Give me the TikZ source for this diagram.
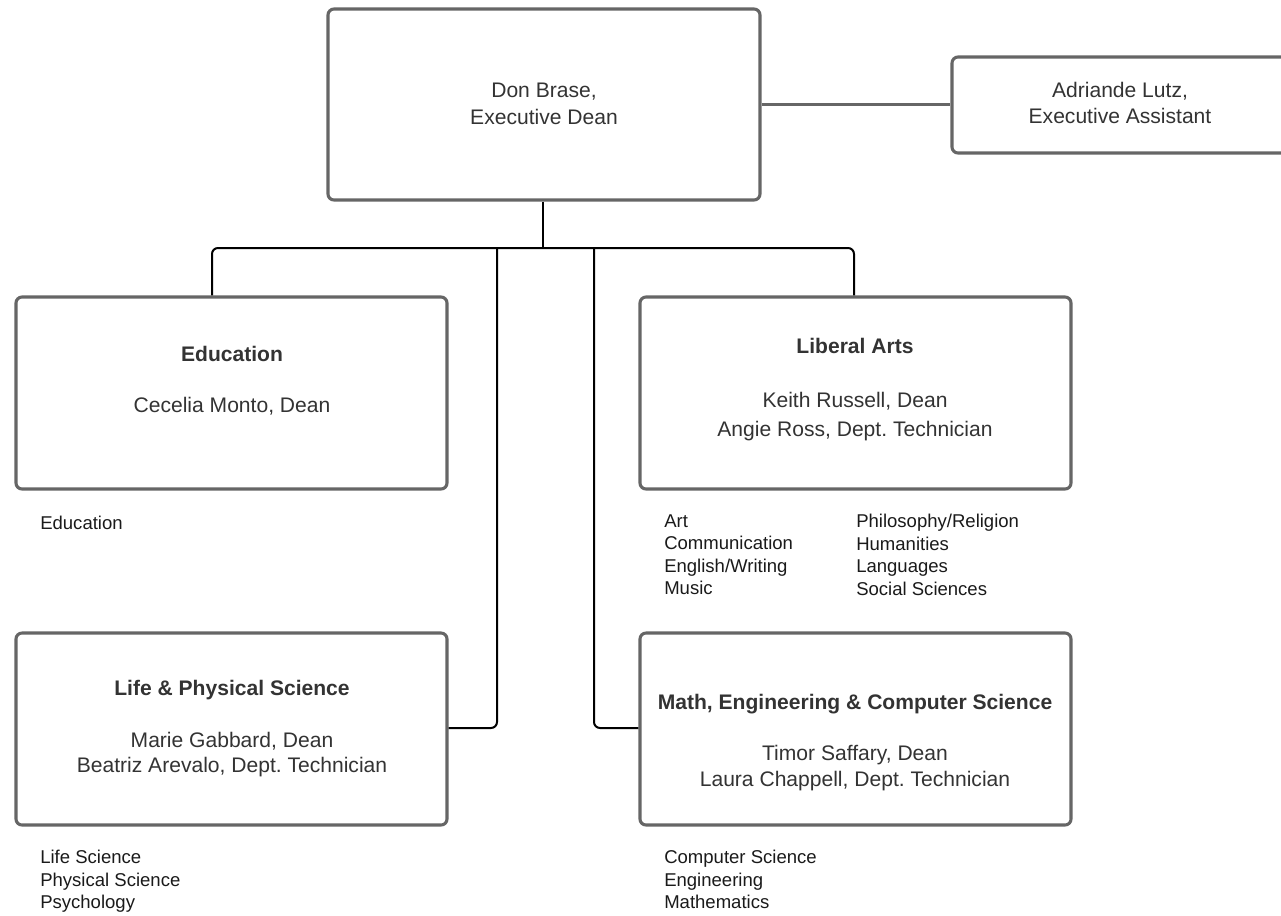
\documentclass[tikz,border=0pt]{standalone}
\usepackage{fontspec}
\setmainfont{Liberation Sans}
\usetikzlibrary{fit}
\frenchspacing
\definecolor{boxline}{HTML}{666666}
\definecolor{boxtext}{HTML}{333333}
\definecolor{listtext}{HTML}{1A1A1A}
\tikzset{
  x=0.75pt, y=-0.75pt,
  orgbox/.style={draw=boxline, line width=2.3pt, rounded corners=4.5pt, inner sep=0pt, fill=white},
  conn/.style={draw=black, line width=1.5pt},
  side/.style={draw=boxline, line width=1.6pt},
  btxt/.style={text=boxtext, font=\fontsize{15.8}{18.75}\selectfont, inner sep=0pt, anchor=center, yshift=-1.5pt},
  ttl/.style={btxt, font=\fontsize{15.8}{18.75}\selectfont\bfseries},
  ltxt/.style={text=listtext, font=\fontsize{13.9}{16.9}\selectfont, inner sep=0pt, anchor=west, align=left, yshift=-1.5pt},
}
\begin{document}
\begin{tikzpicture}
\useasboundingbox (0,0) rectangle (1281,915);
\clip (0,0) rectangle (1281,915);
\fill[white] (0,0) rectangle (1281,915);

% boxes
\node[orgbox, fit={(328,9) (760,200)}] (don) {};
\node[orgbox, fit={(952,57) (1300,153)}] (asst) {};
\node[orgbox, fit={(16,297) (447,489)}] (edu) {};
\node[orgbox, fit={(640,297) (1071,489)}] (la) {};
\node[orgbox, fit={(16,633) (447,825)}] (lps) {};
\node[orgbox, fit={(640,633) (1071,825)}] (mec) {};

% connector coordinates
\coordinate (j) at (543,248);
\coordinate (jl) at (212,248);
\coordinate (jr) at (854,248);
\coordinate (vl) at (497,248);
\coordinate (vr) at (594,248);
\coordinate (cl) at (497,728);
\coordinate (cr) at (594,728);

\draw[conn] (don.south -| j) -- (j);
\draw[conn, rounded corners=4.5pt] (edu.north -| jl) -- (jl) -- (jr) -- (la.north -| jr);
\draw[conn, rounded corners=4.5pt] (vl) -- (cl) -- (lps.east |- cl);
\draw[conn, rounded corners=4.5pt] (vr) -- (cr) -- (mec.west |- cr);
\draw[side] (don.east) -- (don.east -| asst.west);

% box texts
\node[btxt] (t1) at (544,90) {Don Brase,};
\node[btxt] (t2) at (544,115) {Executive Dean};
\node[btxt] (t3) at (1120,89) {Adriande Lutz,};
\node[btxt] (t4) at (1120,114) {Executive Assistant};

\node[ttl] (t5) at (232,352) {Education};
\node[btxt] (t6) at (232,404) {Cecelia Monto, Dean};

\node[ttl] (t7) at (855,344) {Liberal Arts};
\node[btxt] (t8) at (855,399) {Keith Russell, Dean};
\node[btxt] (t9) at (855,429) {Angie Ross, Dept. Technician};

\node[ttl] (t10) at (232,688) {Life \& Physical Science};
\node[btxt] (t11) at (232,739) {Marie Gabbard, Dean};
\node[btxt] (t12) at (232,765) {Beatriz Arevalo, Dept. Technician};

\node[ttl] (t13) at (855,702) {Math, Engineering \& Computer Science};
\node[btxt] (t14) at (855,753) {Timor Saffary, Dean};
\node[btxt] (t15) at (855,779) {Laura Chappell, Dept. Technician};

% lists
\node[ltxt] (l1) at (40,521) {Education};
\node[ltxt, anchor=north west] (l2) at (664,512) {Art\\Communication\\English/Writing\\Music};
\node[ltxt, anchor=north west] (l3) at (856,512) {Philosophy/Religion\\Humanities\\Languages\\Social Sciences};
\node[ltxt, anchor=north west] (l4) at (40,848) {Life Science\\Physical Science\\Psychology};
\node[ltxt, anchor=north west] (l5) at (664,848) {Computer Science\\Engineering\\Mathematics};
\end{tikzpicture}
\end{document}
